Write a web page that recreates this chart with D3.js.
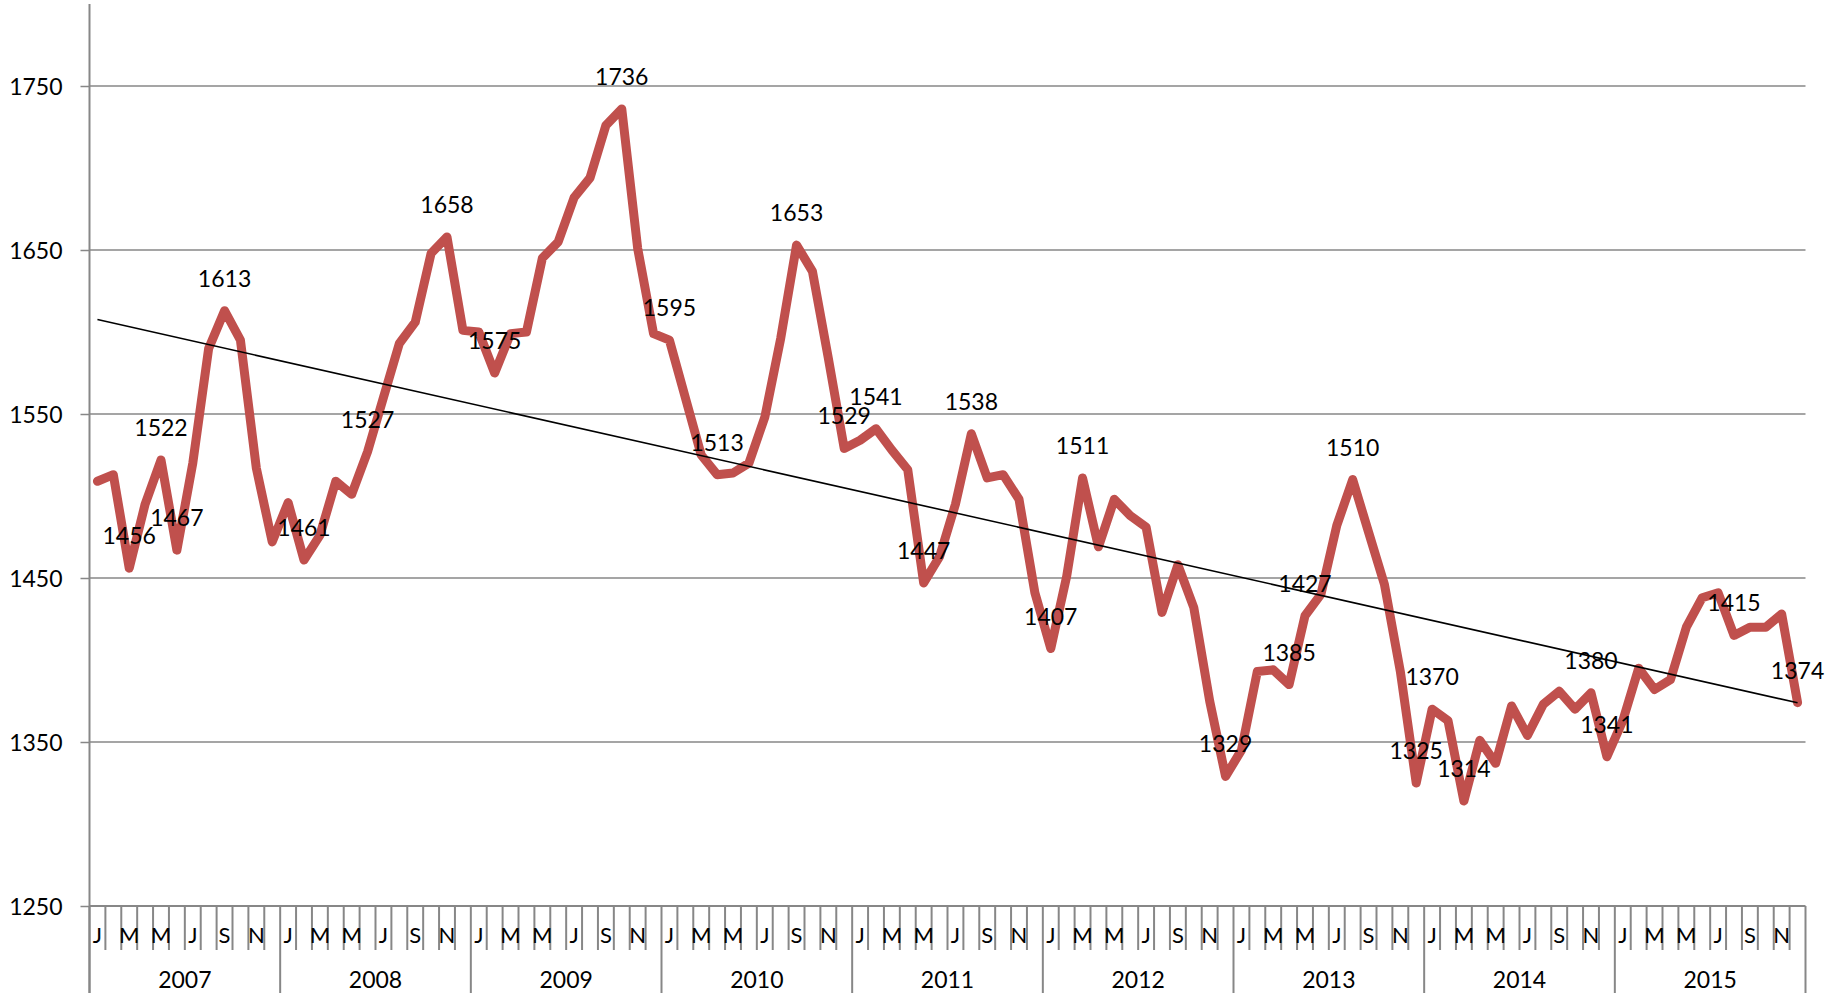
<!DOCTYPE html>
<html>
<head>
<meta charset="utf-8">
<script src="https://cdn.jsdelivr.net/npm/d3@7/dist/d3.min.js"></script>
<style>
  html, body { margin: 0; padding: 0; background: #fff; }
  svg { display: block; }
  text { font-family: Lato, "Open Sans", sans-serif; fill: #000; }
</style>
</head>
<body>
<div id="chart"></div>
<script>
// monthly values Jan 2007 .. Dec 2015
var years = ['2007', '2008', '2009', '2010', '2011', '2012', '2013', '2014', '2015'];
var monthLetters = ['J', 'F', 'M', 'A', 'M', 'J', 'J', 'A', 'S', 'O', 'N', 'D'];
var values = [
  1509, 1513, 1456, 1495, 1522, 1467, 1520, 1590, 1613, 1595, 1517, 1472,
  1496, 1461, 1476, 1509, 1501, 1527, 1560, 1593, 1606, 1648, 1658, 1601,
  1600, 1575, 1599, 1600, 1645, 1655, 1682, 1694, 1726, 1736, 1651, 1599,
  1595, 1560, 1525, 1513, 1514, 1520, 1548, 1596, 1653, 1637, 1584, 1529,
  1534, 1541, 1528, 1516, 1447, 1463, 1495, 1538, 1511, 1513, 1498, 1441,
  1407, 1451, 1511, 1469, 1498, 1488, 1481, 1429, 1458, 1432, 1375, 1329,
  1345, 1393, 1394, 1385, 1427, 1440, 1482, 1510, 1478, 1446, 1393, 1325,
  1370, 1363, 1314, 1351, 1337, 1372, 1354, 1373, 1381, 1370, 1380, 1341,
  1363, 1395, 1382, 1388, 1420, 1438, 1441, 1415, 1420, 1420, 1428, 1374
];
// months that carry a value label
var labelIdx = [2, 4, 5, 8, 13, 17, 22, 25, 33, 36, 39, 44, 47, 49, 52, 55, 60, 62,
                71, 75, 76, 79, 83, 84, 86, 94, 95, 103, 107];
var yTicks = [1250, 1350, 1450, 1550, 1650, 1750];

var W = 1829, H = 993;
var plotL = 89.5, plotR = 1805.5, plotT = 4, plotB = 906;
var gray = '#878787';

var svg = d3.select('#chart').append('svg').attr('width', W).attr('height', H);

var idx = d3.range(values.length);
var x = d3.scaleBand().domain(idx).range([plotL, plotR]).padding(0);
var y = d3.scaleLinear().domain([1250, 1800]).range([plotB, plotT]);
var cx = function(i) { return x(i) + x.bandwidth() / 2; };

// gridlines
svg.selectAll('line.grid').data(yTicks.slice(1)).enter().append('line')
  .attr('x1', plotL).attr('x2', plotR)
  .attr('y1', function(d) { return y(d); }).attr('y2', function(d) { return y(d); })
  .attr('stroke', gray).attr('stroke-width', 1.5);

// y axis
var yAxis = d3.axisLeft(y).tickValues(yTicks).tickSize(9).tickPadding(18).tickFormat(d3.format('d'));
var ga = svg.append('g').attr('transform', 'translate(' + plotL + ',0)').call(yAxis);
ga.select('.domain').remove();
ga.selectAll('.tick line').attr('stroke', gray).attr('stroke-width', 1.5);
ga.selectAll('.tick text').style('font-size', '23px').style('font-family', 'Lato, sans-serif')
  .attr('fill', '#000').attr('dy', '0.35em');
svg.append('line').attr('x1', plotL).attr('x2', plotL).attr('y1', plotT).attr('y2', H)
  .attr('stroke', gray).attr('stroke-width', 2);

// x axis: baseline, month ticks, year separators
svg.append('line').attr('x1', plotL).attr('x2', plotR).attr('y1', plotB).attr('y2', plotB)
  .attr('stroke', gray).attr('stroke-width', 2);
var bounds = d3.range(values.length + 1);
svg.selectAll('line.mtick').data(bounds).enter().append('line')
  .attr('x1', function(i) { return i < values.length ? x(i) : plotR; })
  .attr('x2', function(i) { return i < values.length ? x(i) : plotR; })
  .attr('y1', plotB)
  .attr('y2', function(i) { return i % 12 === 0 ? H : 950; })
  .attr('stroke', gray).attr('stroke-width', 2);

svg.selectAll('text.month').data(idx.filter(function(i) { return i % 2 === 0; })).enter().append('text')
  .attr('x', cx).attr('y', 943).attr('text-anchor', 'middle')
  .style('font-size', '22px')
  .text(function(i) { return monthLetters[i % 12]; });

svg.selectAll('text.year').data(years).enter().append('text')
  .attr('x', function(d, k) { return (x(k * 12) + (k === years.length - 1 ? plotR : x(k * 12 + 12))) / 2; })
  .attr('y', 988).attr('text-anchor', 'middle')
  .style('font-size', '23px')
  .text(function(d) { return d; });

// series line
var line = d3.line().x(function(d, i) { return cx(i); }).y(function(d) { return y(d); });
svg.append('path').datum(values).attr('d', line)
  .attr('fill', 'none').attr('stroke', '#C0504D').attr('stroke-width', 9)
  .attr('stroke-linejoin', 'round').attr('stroke-linecap', 'round');

// linear trend
var mx = d3.mean(idx), my = d3.mean(values);
var slope = d3.sum(idx, function(i) { return (i - mx) * (values[i] - my); }) /
            d3.sum(idx, function(i) { return (i - mx) * (i - mx); });
var icpt = my - slope * mx;
var n = values.length - 1;
svg.append('line')
  .attr('x1', cx(0)).attr('y1', y(icpt))
  .attr('x2', cx(n)).attr('y2', y(icpt + slope * n))
  .attr('stroke', '#000').attr('stroke-width', 1.6);

// data labels
svg.selectAll('text.lbl').data(labelIdx).enter().append('text')
  .attr('x', cx).attr('y', function(i) { return y(values[i]) - 24; })
  .attr('text-anchor', 'middle')
  .style('font-size', '23px')
  .text(function(i) { return values[i]; });
</script>
</body>
</html>
